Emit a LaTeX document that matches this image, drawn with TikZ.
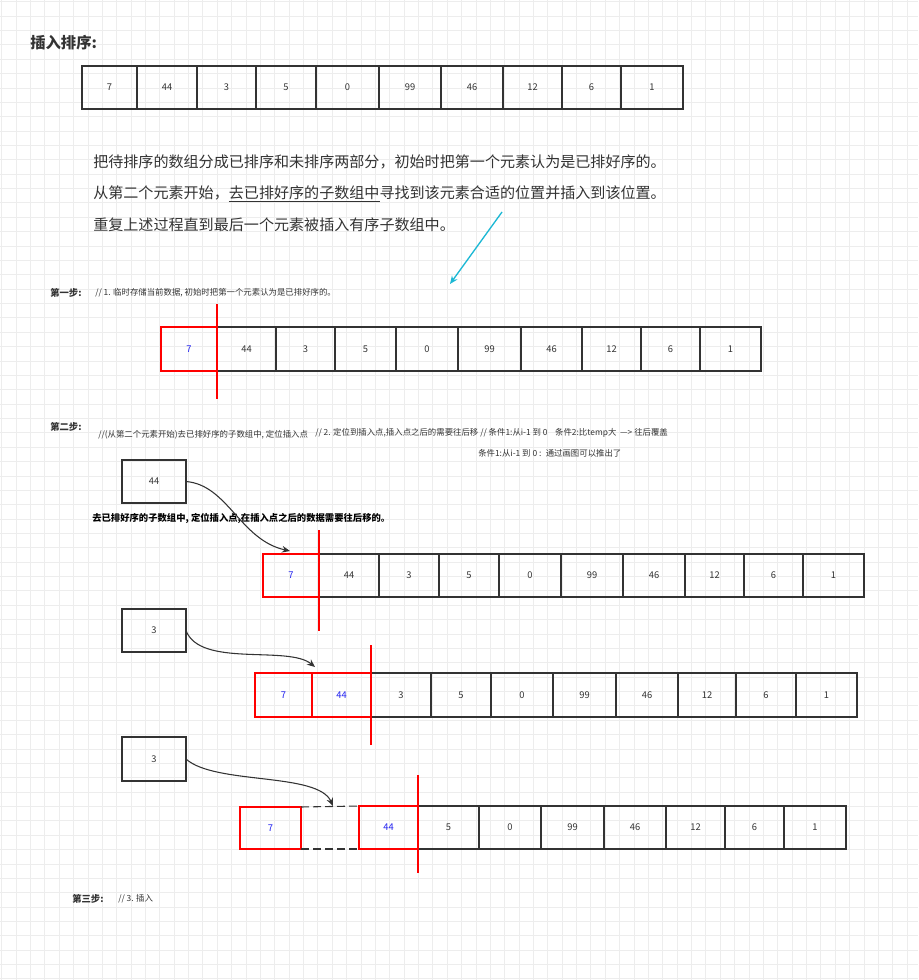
\documentclass[tikz,border=0pt]{standalone}
\usepackage{fontspec}
\setmainfont{Noto Sans CJK SC}
\usetikzlibrary{arrows.meta}
\definecolor{ink}{HTML}{333333}
\definecolor{gridc}{HTML}{EDEDED}
\definecolor{redc}{HTML}{FF0000}
\definecolor{bluec}{HTML}{2020F0}
\definecolor{cyanc}{HTML}{1CB8D4}
\tikzset{
  cell/.style={draw=ink, line width=0.9pt, inner sep=0pt, outer sep=0pt, text=ink,
    font=\fontsize{7}{8}\selectfont},
  redcell/.style={cell, draw=redc, text=bluec},
  lbl/.style={anchor=west, inner sep=0pt, text=ink, font=\fontsize{6.3}{7}\selectfont},
  steplbl/.style={anchor=west, inner sep=0pt, text=ink, font=\fontsize{7}{8}\selectfont\bfseries},
  para/.style={anchor=west, inner sep=0pt, text=ink, font=\fontsize{11.3}{13}\selectfont},
  redmark/.style={draw=redc, line width=0.8pt},
  arr/.style={draw=ink, line width=0.8pt, -{Stealth[length=6pt,width=5pt]}},
}
\begin{document}
\begin{tikzpicture}[x=0.75pt,y=-0.75pt]
\useasboundingbox (0,0) rectangle (918,980);
\fill[white] (0,0) rectangle (918,980);
\foreach \k in {0,...,63} \draw[gridc, line width=0.6pt] ({1.7+14.37*\k},0) -- ++(0,980);
\foreach \k in {0,...,68} \draw[gridc, line width=0.6pt] (0,{1.7+14.37*\k}) -- ++(918,0);

% title
\node[anchor=west, inner sep=0pt, text=ink, font=\fontsize{11.5}{13}\selectfont\bfseries] (title) at (30,43) {插入排序:};

% row 1
\foreach \a/\b/\v [count=\i] in {82/137/7,137/197/44,197/256/3,256/316/5,316/379/0,379/441/99,441/503/46,503/562/12,562/621/6,621/683/1}
  \node[cell, minimum width={(\b-\a)*0.75pt}, minimum height={43*0.75pt}] (ra\i) at ({(\a+\b)/2},87.5) {\v};

% paragraph
\node[para] (p1) at (93,162) {把待排序的数组分成已排序和未排序两部分，初始时把第一个元素认为是已排好序的。};
\node[para] (p2) at (93,194) {从第二个元素开始，\underline{去已排好序的子数组中}寻找到该元素合适的位置并插入到该位置。};
\node[para] (p3) at (93,225) {重复上述过程直到最后一个元素被插入有序子数组中。};
\coordinate (c1) at (502,212);
\coordinate (c2) at (450,284);
\draw[cyanc, line width=1pt, -{Stealth[length=6pt,width=5pt]}] (c1) -- (c2);

% step 1
\node[steplbl] (s1lbl) at (50,293) {第一步:};
\node[lbl] (s1txt) at (95,293) {// 1. 临时存储当前数据, 初始时把第一个元素认为是已排好序的。};
\foreach \a/\b/\v [count=\i] in {217/276/44,276/335/3,335/396/5,396/458/0,458/521/99,521/582/46,582/641/12,641/700/6,700/761/1}
  \node[cell, minimum width={(\b-\a)*0.75pt}, minimum height={44*0.75pt}] (rb\i) at ({(\a+\b)/2},349) {\v};
\node[redcell, minimum width={56*0.75pt}, minimum height={44*0.75pt}] (rb0) at (189,349) {7};
\draw[redmark] (217,304) -- (217,399);

% step 2
\node[steplbl] (s2lbl) at (50,427) {第二步:};
\node[lbl] (s2a) at (98,435) {//(从第二个元素开始)去已排好序的子数组中, 定位插入点};
\node[lbl] (s2b) at (315,433) {// 2. 定位到插入点,插入点之后的需要往后移 // 条件1:从i-1 到 0 \ \ \ 条件2:比temp大 \ ---> 往后覆盖};
\node[lbl] (s2c) at (478,453) {条件1:从i-1 到 0 : \ 通过画图可以推出了};

\node[cell, minimum width={64*0.75pt}, minimum height={43*0.75pt}] (src1) at (154,481.5) {44};
\node[anchor=west, inner sep=0pt, text=black, font=\fontsize{7}{8}\selectfont\bfseries] (s2d) at (92,518) {去已排好序的子数组中, 定位插入点,在插入点之后的数据需要往后移的。};

\foreach \a/\b/\v [count=\i] in {319/379/44,379/439/3,439/499/5,499/561/0,561/623/99,623/685/46,685/744/12,744/803/6,803/864/1}
  \node[cell, minimum width={(\b-\a)*0.75pt}, minimum height={43*0.75pt}] (rc\i) at ({(\a+\b)/2},575.5) {\v};
\node[redcell, minimum width={56*0.75pt}, minimum height={43*0.75pt}] (rc0) at (291,575.5) {7};
\draw[redmark] (319,530) -- (319,631);
\coordinate (t1) at (290,551);
\draw[arr] (src1.east) .. controls (228,485) and (240,540) .. (t1);

\node[cell, minimum width={64*0.75pt}, minimum height={43*0.75pt}] (src2) at (154,630.5) {3};
\foreach \a/\b/\v [count=\i] in {371/431/3,431/491/5,491/553/0,553/616/99,616/678/46,678/736/12,736/796/6,796/857/1}
  \node[cell, minimum width={(\b-\a)*0.75pt}, minimum height={44*0.75pt}] (rd\i) at ({(\a+\b)/2},695) {\v};
\node[redcell, minimum width={57*0.75pt}, minimum height={44*0.75pt}] (rd0) at (283.5,695) {7};
\node[redcell, minimum width={59*0.75pt}, minimum height={44*0.75pt}] (rdb) at (341.5,695) {44};
\draw[redmark] (371,645) -- (371,745);
\coordinate (t2) at (315,667);
\draw[arr] (src2.east) .. controls (200,668) and (288,645) .. (t2);

\node[cell, minimum width={64*0.75pt}, minimum height={44*0.75pt}] (src3) at (154,759) {3};
\foreach \a/\b/\v [count=\i] in {418/479/5,479/541/0,541/604/99,604/666/46,666/725/12,725/784/6,784/846/1}
  \node[cell, minimum width={(\b-\a)*0.75pt}, minimum height={43*0.75pt}] (re\i) at ({(\a+\b)/2},827.5) {\v};
\node[redcell, minimum width={61*0.75pt}, minimum height={42*0.75pt}] (re0) at (270.5,828) {7};
\node[redcell, minimum width={59*0.75pt}, minimum height={43*0.75pt}] (reb) at (388.5,827.5) {44};
\draw[ink, line width=0.8pt, dash pattern=on 6pt off 3pt] (re0.north east) -- (reb.north west);
\draw[ink, line width=0.8pt, dash pattern=on 6pt off 3pt] (re0.south east) -- (reb.south west);
\draw[redmark] (418,775) -- (418,873);
\coordinate (t3) at (333,806);
\draw[arr] (src3.east) .. controls (215,785) and (318,772) .. (t3);

% step 3
\node[steplbl] (s3lbl) at (72,899) {第三步:};
\node[lbl] (s3txt) at (118,899) {// 3. 插入};
\end{tikzpicture}
\end{document}
